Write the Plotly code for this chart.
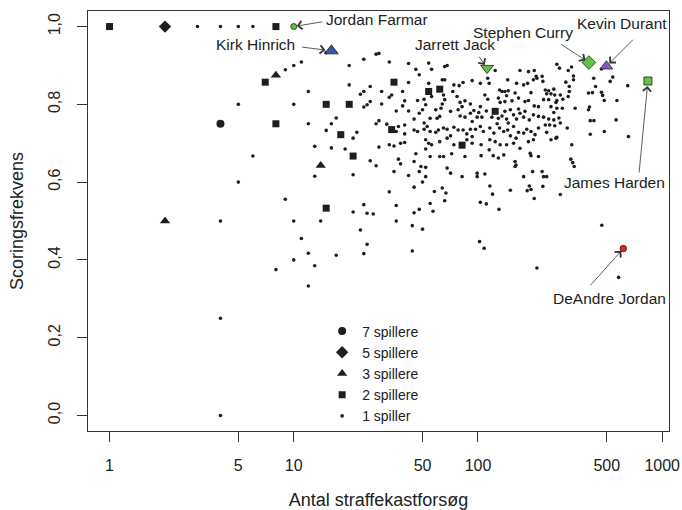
import numpy as np
import plotly.graph_objects as go

# ---------------- data: (free-throw attempts, scoring rate) ----------------
# players that are alone at their point ("1 spiller"), read region by region
one_left = [(3, 1.0), (4, 1.0), (5, 1.0), (6, 1.0),
            (9, 0.889), (10, 0.9), (11, 0.909), (12, 0.833), (15, 0.933),
            (5, 0.8), (10, 0.8), (17, 0.765), (12, 0.75), (16, 0.75), (15, 0.733),
            (6, 0.667), (13, 0.692), (16, 0.688), (5, 0.6), (13, 0.615), (9, 0.556),
            (4, 0.5), (10, 0.5), (14, 0.5), (11, 0.455), (12, 0.417), (17, 0.412),
            (10, 0.4), (13, 0.385), (8, 0.375), (12, 0.333), (4, 0.25), (4, 0.0)]

one_20_45 = [(20, 0.9), (24, 0.916), (28, 0.929), (29, 0.931), (33, 0.909), (42, 0.905),
             (20, 0.85), (26, 0.846), (24, 0.833), (23, 0.826), (30, 0.833), (33, 0.818),
             (34, 0.824), (39, 0.833), (42, 0.856),
             (24, 0.793), (25, 0.799), (26, 0.807), (30, 0.801), (36, 0.783), (39, 0.796),
             (40, 0.809), (42, 0.783),
             (29, 0.758), (28, 0.75), (32, 0.749), (36, 0.73), (37, 0.743), (40, 0.747), (40, 0.724),
             (22, 0.728), (21, 0.713), (19, 0.685), (29, 0.69), (33, 0.696), (35, 0.693),
             (38, 0.7), (40, 0.702),
             (26, 0.655), (28, 0.642), (37, 0.659), (38, 0.647), (21, 0.619), (35, 0.627), (42, 0.617),
             (33, 0.575), (24, 0.542), (36, 0.54), (21, 0.523), (25, 0.52), (27, 0.518),
             (36, 0.5), (23, 0.477), (25, 0.44), (24, 0.416)]

one_45_215 = [(46, 0.890), (48, 0.876), (54, 0.906), (56, 0.890), (66, 0.897), (68, 0.900),
              (124, 0.887), (169, 0.887), (188, 0.884), (202, 0.887), (209, 0.867),
              (54, 0.854), (64, 0.863), (66, 0.863), (74, 0.850), (79, 0.848), (83, 0.856),
              (93, 0.861), (103, 0.854), (113, 0.867), (115, 0.854), (131, 0.837), (135, 0.833),
              (140, 0.833), (145, 0.863), (146, 0.835), (162, 0.854), (177, 0.850), (186, 0.854),
              (200, 0.863), (207, 0.872),
              (47, 0.810), (51, 0.813), (52, 0.799), (56, 0.820), (65, 0.824), (66, 0.812),
              (64, 0.801), (63, 0.790), (73, 0.833), (77, 0.820), (80, 0.805), (85, 0.809),
              (82, 0.794), (91, 0.801), (103, 0.794), (109, 0.824), (113, 0.813), (129, 0.816),
              (132, 0.805), (140, 0.807), (143, 0.822), (153, 0.809), (159, 0.829), (166, 0.816),
              (180, 0.807), (188, 0.810), (194, 0.830), (202, 0.796), (213, 0.794),
              (45, 0.762), (48, 0.777), (50, 0.786), (51, 0.752), (55, 0.764), (59, 0.786),
              (60, 0.764), (62, 0.769), (71, 0.782), (78, 0.786), (80, 0.770), (85, 0.767),
              (91, 0.777), (93, 0.756), (95, 0.784), (99, 0.767), (101, 0.779), (105, 0.767),
              (111, 0.783), (119, 0.767), (129, 0.764), (135, 0.770), (140, 0.782), (143, 0.762),
              (146, 0.752), (150, 0.786), (156, 0.773), (162, 0.762), (166, 0.788), (169, 0.777),
              (177, 0.767), (180, 0.782), (190, 0.760), (200, 0.773), (213, 0.769),
              (45, 0.734), (47, 0.730), (51, 0.736), (53, 0.743), (55, 0.730), (59, 0.728),
              (61, 0.734), (65, 0.739), (68, 0.736), (71, 0.719), (74, 0.741), (78, 0.734),
              (83, 0.734), (87, 0.724), (91, 0.736), (93, 0.717), (97, 0.736), (103, 0.743),
              (107, 0.730), (116, 0.739), (122, 0.726), (127, 0.750), (131, 0.739), (138, 0.730),
              (145, 0.734), (150, 0.719), (156, 0.743), (161, 0.713), (166, 0.728), (177, 0.726),
              (184, 0.736), (194, 0.730), (204, 0.722), (213, 0.739),
              (52, 0.709), (54, 0.700), (56, 0.696), (62, 0.704), (68, 0.713), (74, 0.696),
              (87, 0.709), (93, 0.700), (104, 0.696), (116, 0.709), (124, 0.704), (132, 0.696),
              (143, 0.696), (156, 0.700), (169, 0.687), (188, 0.704), (200, 0.709),
              (46, 0.673), (52, 0.685), (55, 0.666), (62, 0.666), (65, 0.666), (72, 0.673),
              (85, 0.666), (104, 0.668), (115, 0.683), (121, 0.668), (129, 0.662), (138, 0.670),
              (159, 0.653), (161, 0.644), (192, 0.674), (194, 0.668), (213, 0.666),
              (45, 0.653), (49, 0.640), (52, 0.638), (48, 0.627), (52, 0.614), (68, 0.636),
              (71, 0.623), (82, 0.614), (99, 0.623), (99, 0.614), (109, 0.621), (159, 0.640),
              (177, 0.614), (198, 0.627),
              (50, 0.6), (45, 0.587), (58, 0.576), (64, 0.585), (67, 0.572), (66, 0.552),
              (55, 0.545), (57, 0.525), (45, 0.521), (48, 0.53), (44, 0.488), (50, 0.479),
              (44, 0.423), (116, 0.59), (120, 0.569), (150, 0.579), (103, 0.548), (111, 0.544),
              (130, 0.53), (190, 0.59), (185, 0.578), (194, 0.581), (202, 0.558), (102, 0.447),
              (108, 0.43), (209, 0.379)]

one_215_up = [(268, 0.903), (277, 0.893), (309, 0.887), (322, 0.896), (468, 0.891),
              (330, 0.873), (330, 0.863), (300, 0.857), (313, 0.846), (425, 0.867), (435, 0.846),
              (539, 0.87), (522, 0.859), (650, 0.848), (313, 0.833), (309, 0.82), (398, 0.829),
              (418, 0.83), (468, 0.831), (475, 0.823), (485, 0.81), (568, 0.81), (337, 0.79),
              (403, 0.793), (398, 0.786), (407, 0.758), (426, 0.758), (562, 0.76), (305, 0.739),
              (485, 0.73), (407, 0.723), (656, 0.717), (268, 0.715), (249, 0.709), (323, 0.696),
              (319, 0.659), (327, 0.65), (333, 0.64),
              (223, 0.872), (225, 0.859), (232, 0.837), (242, 0.835), (258, 0.839), (236, 0.827),
              (249, 0.827), (261, 0.824), (227, 0.812), (242, 0.812), (268, 0.81), (280, 0.824),
              (289, 0.813), (265, 0.805), (249, 0.794), (268, 0.79), (287, 0.79), (258, 0.779),
              (227, 0.767), (242, 0.762), (258, 0.76), (275, 0.765), (280, 0.752), (232, 0.747),
              (245, 0.747), (261, 0.745), (236, 0.728), (265, 0.713), (223, 0.627), (236, 0.614),
              (227, 0.614),
              (225, 0.589), (280, 0.568), (470, 0.489), (580, 0.355)]

# several players on the same point
two_att = [1, 8, 7, 8, 15, 18, 15, 20, 21, 35, 34, 54, 62, 124, 82]
two_rate = [1.0, 1.0, 0.857, 0.75, 0.8, 0.722, 0.533, 0.8, 0.667, 0.857, 0.735, 0.833,
            0.839, 0.782, 0.695]
three_att = [2, 8, 14]
three_rate = [0.5, 0.875, 0.643]
five_att = [2]
five_rate = [1.0]
seven_att = [4]
seven_rate = [0.75]

# highlighted players
players = ["Jordan Farmar", "Kirk Hinrich", "Jarrett Jack", "Stephen Curry",
           "Kevin Durant", "James Harden", "DeAndre Jordan"]
player_att = [10, 16, 112, 400, 498, 837, 615]
player_rate = [1.0, 0.9375, 0.893, 0.9075, 0.898, 0.860, 0.429]

legend_names = ["7 spillere", "5 spillere", "3 spillere", "2 spillere", "1 spiller"]
x_ticks = [1, 5, 10, 50, 100, 500, 1000]
y_ticks = [0.0, 0.2, 0.4, 0.6, 0.8, 1.0]
y_ticktext = ["0,0", "0,2", "0,4", "0,6", "0,8", "1,0"]

# ---------------- figure ----------------
ones = one_left + one_20_45 + one_45_215 + one_215_up
one_att = [p[0] for p in ones]
one_rate = [p[1] for p in ones]

FONT = "Liberation Sans, Arial, sans-serif"
INK = "#1e1e1e"

fig = go.Figure()
groups = [
    (seven_att, seven_rate, "circle", 8),
    (five_att, five_rate, "diamond", 9.5),
    (three_att, three_rate, "triangle-up", 9),
    (two_att, two_rate, "square", 7),
    (one_att, one_rate, "circle", 3.6),
]
for (xs, ys, sym, sz), name in zip(groups, legend_names):
    fig.add_trace(go.Scatter(
        x=xs, y=ys, mode="markers", name=name,
        marker=dict(symbol=sym, size=sz, color=INK, line=dict(width=0)),
        hoverinfo="skip"))

p_style = [  # symbol, size, colour
    ("circle", 6, "#62c246"),
    ("triangle-up", 12, "#3456a8"),
    ("triangle-down", 11, "#62c246"),
    ("diamond", 10.5, "#62c246"),
    ("triangle-up", 11, "#8a56c4"),
    ("square", 8, "#62c246"),
    ("circle", 6.5, "#e2231a"),
]
for i, name in enumerate(players):
    sym, sz, col = p_style[i]
    fig.add_trace(go.Scatter(
        x=[player_att[i]], y=[player_rate[i]], mode="markers", name=name,
        showlegend=False,
        marker=dict(symbol=sym, size=sz, color=col, line=dict(width=0.8, color="#222")),
        hoverinfo="skip"))

# label offsets (pixels): text centre shift, arrow tail offset, standoff
lab = {
    "Jordan Farmar": (83, 7, 30, -5, 3),
    "Kirk Hinrich": (-76, 6, -31, -4, 6),
    "Jarrett Jack": (-32, 24, -9, -13, 4),
    "Stephen Curry": (-66, 30, -29, -19, 4),
    "Kevin Durant": (16, 43, 28, -28, 4),
    "James Harden": (-33, -101, -9, 93, 5),
    "DeAndre Jordan": (-14, -50, -34, 38, 3),
}
ann = []
for i, name in enumerate(players):
    tx, ty, ax, ay, so = lab[name]
    lx = np.log10(player_att[i])
    ann.append(dict(x=lx, y=player_rate[i], xref="x", yref="y", text="",
                    showarrow=True, ax=ax, ay=ay, arrowhead=4, arrowsize=2,
                    arrowwidth=0.8, arrowcolor="#333", standoff=so))
    ann.append(dict(x=lx, y=player_rate[i], xref="x", yref="y", text=name,
                    showarrow=False, xshift=tx, yshift=ty,
                    font=dict(family=FONT, size=15.5, color="#222")))

fig.update_layout(
    width=682, height=510,
    margin=dict(l=88, r=13, t=11, b=79),
    paper_bgcolor="white", plot_bgcolor="white",
    font=dict(family=FONT, color="#222"),
    annotations=ann,
    legend=dict(x=0.403, y=0.275, xanchor="left", yanchor="top",
                bgcolor="rgba(0,0,0,0)", font=dict(family=FONT, size=14, color="#222"),
                itemsizing="trace", tracegroupgap=0),
)
fig.update_xaxes(
    type="log", range=[-0.117, 3.037],
    tickvals=x_ticks, ticktext=[str(v) for v in x_ticks],
    ticks="outside", ticklen=10, tickwidth=1, tickcolor="#333",
    showline=True, linecolor="#333", linewidth=1.3, mirror=True,
    showgrid=False, zeroline=False, automargin=False,
    tickfont=dict(family=FONT, size=16, color="#222"), ticklabelstandoff=10,
    title=dict(text="Antal straffekastforsøg", font=dict(family=FONT, size=18, color="#222"),
               standoff=25),
)
fig.update_yaxes(
    range=[-0.04, 1.04],
    tickvals=y_ticks, ticktext=y_ticktext, tickangle=-90,
    ticks="outside", ticklen=10, tickwidth=1, tickcolor="#333",
    showline=True, linecolor="#333", linewidth=1.3, mirror=True,
    showgrid=False, zeroline=False, automargin=False,
    tickfont=dict(family=FONT, size=16, color="#222"), ticklabelstandoff=10,
    title=dict(text="Scoringsfrekvens", font=dict(family=FONT, size=18, color="#222"),
               standoff=18),
)

fig.write_html("out.html")
